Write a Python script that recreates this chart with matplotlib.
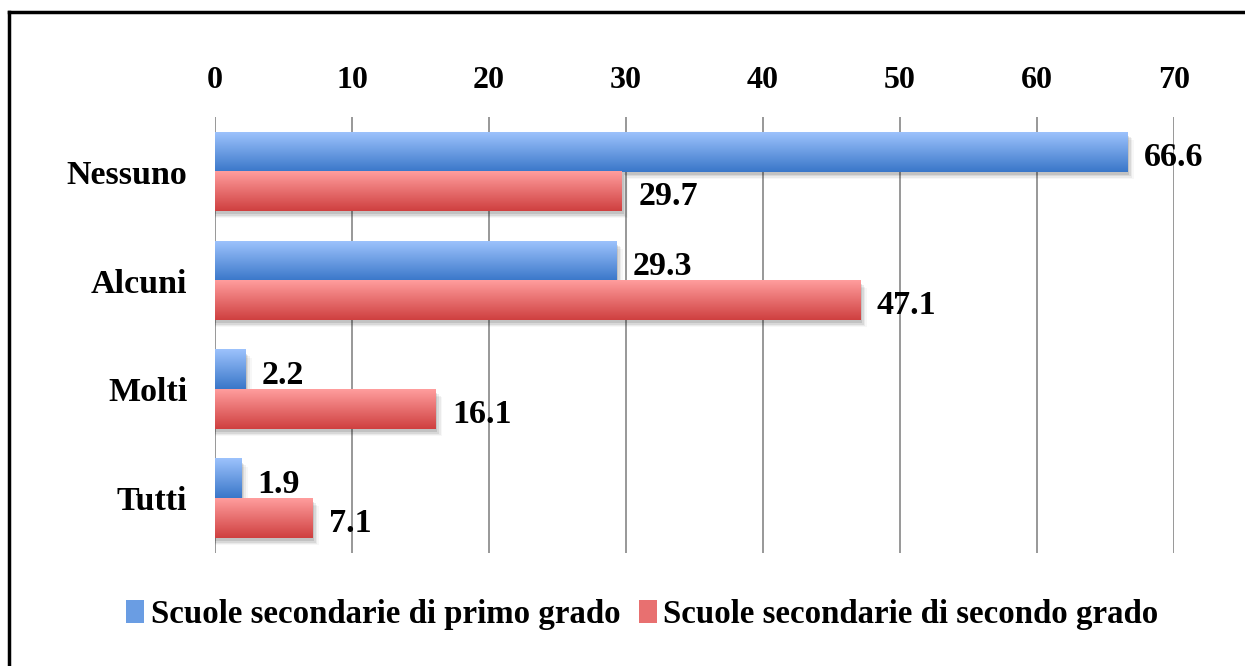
import numpy as np
import matplotlib
matplotlib.use("Agg")
import matplotlib.pyplot as plt
from matplotlib.colors import LinearSegmentedColormap
from matplotlib.patches import Rectangle, Patch
from matplotlib.lines import Line2D

categories = ["Nessuno", "Alcuni", "Molti", "Tutti"]
primo = [66.6, 29.3, 2.2, 1.9]
secondo = [29.7, 47.1, 16.1, 7.1]
series_names = ["Scuole secondarie di primo grado", "Scuole secondarie di secondo grado"]
x_ticks = [0, 10, 20, 30, 40, 50, 60, 70]

plt.rcParams["font.family"] = ["Liberation Serif", "DejaVu Serif"]
plt.rcParams["font.weight"] = "bold"

blue_top, blue_bot = "#9cc2fc", "#3a77c9"
red_top, red_bot = "#ff9d9d", "#cf4040"
cmap_blue = LinearSegmentedColormap.from_list("b", [blue_top, blue_bot])
cmap_red = LinearSegmentedColormap.from_list("r", [red_top, red_bot])
grad = np.linspace(0, 1, 64).reshape(-1, 1)

fig = plt.figure(figsize=(12.45, 6.66), dpi=100)
ax = fig.add_axes([0.1727, 0.1697, 0.7703, 0.6546])

h = 0.36


def gradient_bar(x, y0, y1, cmap):
    # soft drop shadow
    for k, a in enumerate([0.10, 0.07, 0.05, 0.03]):
        off = 0.012 * (k + 1)
        ax.add_patch(Rectangle((0, y0 + off + 0.02), x + 0.12 * (k + 1), y1 - y0,
                               facecolor="black", alpha=a, lw=0, zorder=1))
    ax.imshow(grad, cmap=cmap, extent=(0, x, y1, y0), aspect="auto",
              interpolation="bicubic", zorder=2)


for i, (p, s) in enumerate(zip(primo, secondo)):
    gradient_bar(p, i - h, i, cmap_blue)
    gradient_bar(s, i, i + h, cmap_red)
    ax.annotate(f"{p}", (p, i - h / 2), xytext=(12, -4), textcoords="offset points",
                ha="left", va="center", fontsize=24.5, fontweight="bold")
    ax.annotate(f"{s}", (s, i + h / 2), xytext=(12, -4), textcoords="offset points",
                ha="left", va="center", fontsize=24.5, fontweight="bold")

ax.set_xlim(0, 70)
ax.set_ylim(len(categories) - 0.5, -0.5)
ax.set_xticks(x_ticks)
ax.set_yticks(range(len(categories)))
ax.set_yticklabels(categories)
ax.xaxis.tick_top()
ax.tick_params(axis="x", length=0, pad=16, labelsize=23)
ax.tick_params(axis="y", length=0, pad=20, labelsize=24.5)
for sp in ax.spines.values():
    sp.set_visible(False)
ax.grid(axis="x", color="#868686", lw=1.2, zorder=0)
ax.set_axisbelow(True)

handles = [Patch(facecolor="#6a9de3", edgecolor="none"),
           Patch(facecolor="#e87070", edgecolor="none")]
fig.legend(handles, series_names, loc="center", bbox_to_anchor=(0.516, 0.078),
           ncol=2, frameon=False, fontsize=23.7, handlelength=0.55, handleheight=0.7,
           handletextpad=0.2, columnspacing=0.55)

# outer frame (top and left edges)
fig.add_artist(Line2D([9 / 1245, 1], [1 - 12 / 666, 1 - 12 / 666], color="black", lw=2.5,
                      transform=fig.transFigure))
fig.add_artist(Line2D([9 / 1245, 9 / 1245], [0, 1 - 12 / 666], color="black", lw=2.5,
                      transform=fig.transFigure))

fig.savefig("out.png", dpi=100)
